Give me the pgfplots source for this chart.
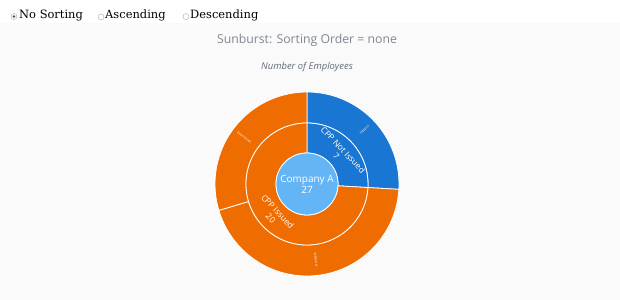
\documentclass[border=0pt]{standalone}
\usepackage{pgfplots}
\pgfplotsset{compat=1.18}
\usepackage{pgfplotstable}
\usepackage{fontspec}
\setmainfont{Open Sans}
\newfontfamily\radiofont{DejaVu Serif}
\definecolor{bg}{RGB}{250,250,250}
\definecolor{cblue}{RGB}{25,118,210}
\definecolor{corange}{RGB}{239,108,0}
\definecolor{clight}{RGB}{100,181,246}
\definecolor{titlegray}{RGB}{128,136,146}
\definecolor{subgray}{RGB}{100,108,120}

\pgfplotstableread{
id value
Company 27
NotIssued 7
Issued 20
Interns 7
Analysts 12
Executives 8
}\sunburst

\begin{document}
\begin{tikzpicture}
\pgfplotstablegetelem{0}{value}\of\sunburst \edef\vTot{\pgfplotsretval}
\pgfplotstablegetelem{1}{value}\of\sunburst \edef\vNot{\pgfplotsretval}
\pgfplotstablegetelem{2}{value}\of\sunburst \edef\vIss{\pgfplotsretval}
\pgfplotstablegetelem{3}{value}\of\sunburst \edef\vInt{\pgfplotsretval}
\pgfplotstablegetelem{4}{value}\of\sunburst \edef\vAn{\pgfplotsretval}
\pgfplotstablegetelem{5}{value}\of\sunburst \edef\vEx{\pgfplotsretval}
\pgfmathsetmacro\aA{90}
\pgfmathsetmacro\aB{90-360*\vNot/\vTot}
\pgfmathsetmacro\aC{\aB-360*\vAn/\vTot}
\pgfmathsetmacro\aD{\aB-360*\vIss/\vTot}
\pgfmathsetmacro\mNot{(\aA+\aB)/2}
\pgfmathsetmacro\mIss{(\aB+\aD)/2}
\pgfmathsetmacro\mAn{(\aB+\aC)/2}
\pgfmathsetmacro\mEx{(\aC+\aD)/2}
\pgfmathsetmacro\rNot{\mNot-90}
\pgfmathsetmacro\rIss{\mIss+90}
\pgfmathsetmacro\rEx{\mEx+180+360}
\pgfmathsetmacro\rAn{\mAn+180}
\fill[bg] (0,0) rectangle (620bp,277bp);
\fill[white] (0,277bp) rectangle (620bp,300bp);
\path[use as bounding box] (0,0) rectangle (620bp,300bp);
\newcommand\sector[5]{\fill[#5,draw=white,line width=0.8bp] ([shift={(#3:#2)}]c) arc[start angle=#3,end angle=#4,radius=#2] -- ([shift={(#4:#1)}]c) arc[start angle=#4,end angle=#3,radius=#1] -- cycle;}
\begin{axis}[x=1bp,y=1bp,xmin=0,xmax=620,ymin=0,ymax=300,hide axis,clip=false,
  at={(0,0)},anchor=south west,scale only axis=false]
\addplot[draw=none] coordinates {(0,0) (620,300)};
\coordinate (c) at (axis cs:307,116);
\sector{61bp}{92bp}{\aA}{\aB}{cblue}
\sector{61bp}{92bp}{\aB}{\aC}{corange}
\sector{61bp}{92bp}{\aC}{\aD}{corange}
\sector{31bp}{61bp}{\aA}{\aB}{cblue}
\sector{31bp}{61bp}{\aB}{\aD}{corange}
\fill[clight,draw=white,line width=0.8bp] (c) circle[radius=31bp];
\node[white,font=\fontsize{10}{11}\selectfont,align=center] at (c) {Company A\\27};
\node[white,font=\fontsize{8.5}{9.5}\selectfont,align=center,rotate=\rNot] at ([shift={(\mNot:45bp)}]c) {CPP Not Issued\\7};
\node[white,font=\fontsize{8.5}{9.5}\selectfont,align=center,rotate=\rIss] at ([shift={(\mIss:45bp)}]c) {CPP Issued\\20};
\node[white,font=\fontsize{3.5}{4}\selectfont,rotate=\mNot] at ([shift={(\mNot:79bp)}]c) {Interns};
\node[white,font=\fontsize{3.5}{4}\selectfont,rotate=\rEx] at ([shift={(\mEx:78bp)}]c) {Executives};
\node[white,font=\fontsize{3.5}{4}\selectfont,rotate=\rAn] at ([shift={(\mAn:76bp)}]c) {Analysts};
\node[titlegray,font=\fontsize{12.3}{14}\selectfont] at (axis cs:307,259.5) {Sunburst: Sorting Order = none};
\node[subgray,font=\fontsize{9.5}{11}\selectfont\itshape] at (axis cs:307,233) {Number of Employees};
% radio buttons
\draw[gray!70,line width=0.4bp,fill=white] (axis cs:14,283.5) circle[radius=3bp];
\fill[black!70] (axis cs:14,283.5) circle[radius=1.3bp];
\draw[gray!70,line width=0.4bp,fill=white] (axis cs:101,283) circle[radius=3bp];
\draw[gray!70,line width=0.4bp,fill=white] (axis cs:186,283.5) circle[radius=3bp];
\node[anchor=base west,inner sep=0pt,font=\radiofont\fontsize{11.5}{13}\selectfont,text=black] at (axis cs:19,282) {No Sorting};
\node[anchor=base west,inner sep=0pt,font=\radiofont\fontsize{11.5}{13}\selectfont,text=black] at (axis cs:105,282) {Ascending};
\node[anchor=base west,inner sep=0pt,font=\radiofont\fontsize{11.5}{13}\selectfont,text=black] at (axis cs:190,282) {Descending};
\end{axis}
\end{tikzpicture}
\end{document}
